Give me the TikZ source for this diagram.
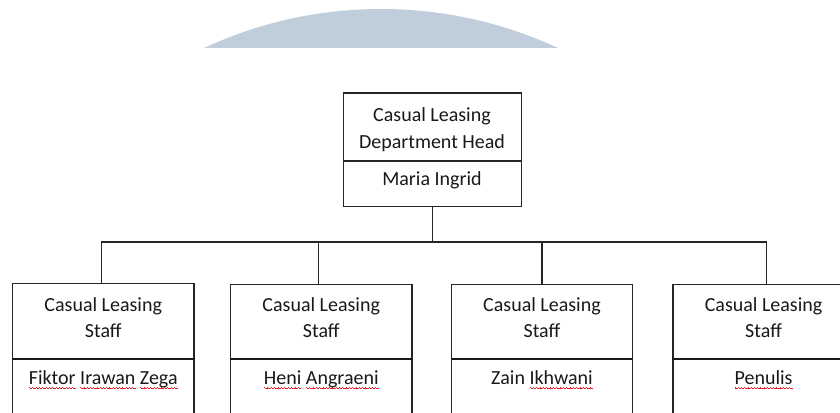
\documentclass[tikz,border=0pt]{standalone}
\usepackage{fontspec}
\setmainfont{Carlito}
\definecolor{wm}{HTML}{C0CEDB}
\definecolor{sqred}{HTML}{E8202A}
\newcommand\squnit{\hbox{%
  \vrule height -2.2pt depth 2.8pt width 0.6pt
  \vrule height -2.7pt depth 3.3pt width 0.6pt
  \vrule height -3.2pt depth 3.8pt width 0.6pt
  \vrule height -2.7pt depth 3.3pt width 0.6pt}}
\newcommand\sq[1]{\setbox0=\hbox{#1}\rlap{\textcolor{sqred}{\hbox to \wd0{\xleaders\squnit\hfill}}}\box0\relax}
\tikzset{
  box/.style={draw=black!85, line width=0.9pt, inner sep=0pt, anchor=north west},
  headbox/.style={box, minimum width=133.5pt},
  staffbox/.style={box, minimum width=136pt},
  label/.style={font=\fontsize{15pt}{19.5pt}\selectfont, align=center, anchor=base, inner sep=0pt, text=black!90},
  conn/.style={draw=black!85, line width=0.9pt},
  divider/.style={draw=black!90, line width=1.8pt},
}
\begin{document}
\begin{tikzpicture}[x=0.75pt, y=-0.75pt]
\clip (0,0) rectangle (840,412);
\fill[white] (0,0) rectangle (840,412);
% watermark
\begin{scope}
  \clip (0,0) rectangle (840,47.7);
  \fill[wm] (381,428.6) circle[radius=419.6];
\end{scope}
% head
\node[headbox, minimum height=50.8pt] (head) at (343,92.3) {};
\node[headbox, minimum height=33.2pt] (headn) at (head.south west) {};
\node[label, font=\fontsize{15pt}{19.7pt}\selectfont] (headt) at (432,148) {Casual Leasing\\Department Head};
\node[label] (headm) at (432,185) {Maria Ingrid};
% staff boxes
\node[staffbox, minimum height=55.9pt] (s1) at (12,283) {};
\node[staffbox, minimum height=60pt] (n1) at (s1.south west) {};
\node[staffbox, minimum height=55.2pt] (s2) at (230,284) {};
\node[staffbox, minimum height=60pt] (n2) at (s2.south west) {};
\node[staffbox, minimum height=55.2pt] (s3) at (450.7,284) {};
\node[staffbox, minimum height=60pt] (n3) at (s3.south west) {};
\node[staffbox, minimum height=55.2pt] (s4) at (672.3,284) {};
\node[staffbox, minimum height=60pt] (n4) at (s4.south west) {};
\foreach \i in {1,2,3,4} {
  \draw[divider] (s\i.south west) -- (s\i.south east);
}
% texts
\node[label, font=\fontsize{15pt}{19pt}\selectfont] (t1) at (s1.north |- 0,337) {Casual Leasing\\Staff};
\node[label, font=\fontsize{15pt}{19pt}\selectfont] (t2) at (s2.north |- 0,337) {Casual Leasing\\Staff};
\node[label, font=\fontsize{15pt}{19pt}\selectfont] (t3) at (s3.north |- 0,337) {Casual Leasing\\Staff};
\node[label, font=\fontsize{15pt}{19pt}\selectfont] (t4) at (s4.north |- 0,337) {Casual Leasing\\Staff};
\node[label] (m1) at (s1.north |- 0,384) {\sq{Fiktor} \sq{Irawan} \sq{Zega}};
\node[label] (m2) at (s2.north |- 0,384) {\sq{Heni} \sq{Angraeni}};
\node[label] (m3) at (s3.north |- 0,384) {Zain \sq{Ikhwani}};
\node[label] (m4) at (s4.north |- 0,384) {\sq{Penulis}};
% connectors
\coordinate (bus) at (headn.south |- 0,242);
\draw[conn] (headn.south) -- (bus);
\draw[conn] (bus) -| ([xshift=-1.2pt]s1.north);
\draw[conn] (bus) -| ([xshift=-2pt]s2.north);
\draw[conn] (bus) -| (s3.north);
\draw[conn] (bus) -| ([xshift=1.9pt]s4.north);
\end{tikzpicture}
\end{document}
